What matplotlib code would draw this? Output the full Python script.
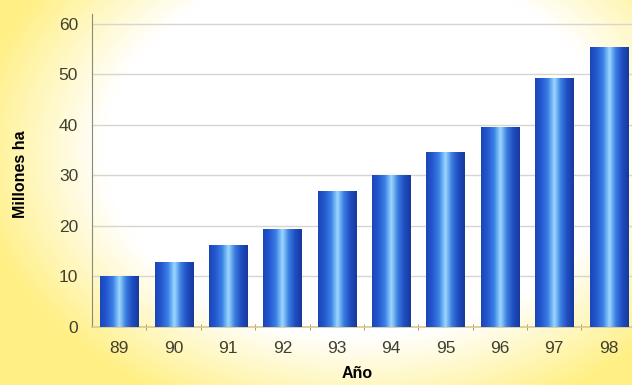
import matplotlib
matplotlib.use("Agg")
import matplotlib.pyplot as plt
import numpy as np
from matplotlib.colors import LinearSegmentedColormap

# superficie (millones de ha) por año
anios = ["89", "90", "91", "92", "93", "94", "95", "96", "97", "98"]
superficie = [10.0, 12.9, 16.1, 19.4, 26.8, 30.1, 34.7, 39.6, 49.2, 55.5]
yticks = [0, 10, 20, 30, 40, 50, 60]

plt.rcParams["font.family"] = ["Liberation Sans", "DejaVu Sans"]

W, H = 632, 385
fig = plt.figure(figsize=(W / 100, H / 100), dpi=100)

# fondo: blanco en el centro, amarillo hacia los bordes
bg = fig.add_axes([0, 0, 1, 1])
bg.set_axis_off()
xx, yy = np.meshgrid(np.linspace(0, W, 320), np.linspace(0, H, 200))
r = np.sqrt(((xx - 360) / 330) ** 2 + ((yy - 150) / 240) ** 2)
t = np.clip((r - 0.78) / 0.4, 0, 1)
white = np.array([1.0, 1.0, 1.0])
yellow = np.array([1.0, 0.94, 0.52])
img = white[None, None, :] * (1 - t[..., None]) + yellow[None, None, :] * t[..., None]
bg.imshow(img, extent=[0, W, H, 0], aspect="auto", interpolation="bilinear")
bg.set_xlim(0, W)
bg.set_ylim(H, 0)

ax = fig.add_axes([92 / W, (H - 326.7) / H, (W - 92) / W, (326.7 - 24) / H * 66 / 60])
ax.patch.set_alpha(0)

x = np.arange(len(anios))
barras = ax.bar(x, superficie, width=0.7, color="#2050c0", zorder=2)

# degradado tipo cilindro en cada barra
cil = LinearSegmentedColormap.from_list(
    "cil", ["#1a45b8", "#2558d0", "#3a80e6", "#9ad8ff", "#3a7ce0", "#1f4cc0", "#163a9c"])
grad = np.linspace(0, 1, 256).reshape(1, -1)
for b in barras:
    x0, y0 = b.get_x(), b.get_y()
    im = ax.imshow(grad, cmap=cil, aspect="auto", zorder=3,
                   extent=[x0, x0 + b.get_width(), y0, y0 + b.get_height()])
    im.set_clip_path(b)

ax.set_xlim(-0.5, 9.43)
ax.set_ylim(0, 66)
ax.set_yticks(yticks)
ax.set_xticks(x)
ax.set_xticklabels(anios)
ax.set_xticks(np.arange(0.5, 9, 1), minor=True)
ax.yaxis.grid(True, color="#d6d6cc", linewidth=1.0, zorder=0)
ax.set_axisbelow(True)

for s in ["top", "right"]:
    ax.spines[s].set_visible(False)
ax.spines["left"].set_color("#8a8a78")
ax.spines["left"].set_bounds(0, 62)
ax.spines["bottom"].set_color("#d8c890")
ax.spines["bottom"].set_linewidth(1.2)

ax.tick_params(axis="y", length=0, pad=10, labelsize=12.5, labelcolor="#404030")
ax.tick_params(axis="x", which="major", length=0, pad=10, labelsize=12.5, labelcolor="#404030")
ax.tick_params(axis="x", which="minor", length=4, color="#9a8a60", direction="inout")

ax.set_ylabel("Millones ha", fontsize=11.5, fontweight="bold")
ax.yaxis.set_label_coords(-(92 - 28) / (W - 92), 0.459)
ax.set_xlabel("Año", fontsize=11.5, fontweight="bold")
ax.xaxis.set_label_coords((357 - 92) / (W - 92), -(366 - 326.7) / 333)

fig.savefig("out.png", dpi=100)
